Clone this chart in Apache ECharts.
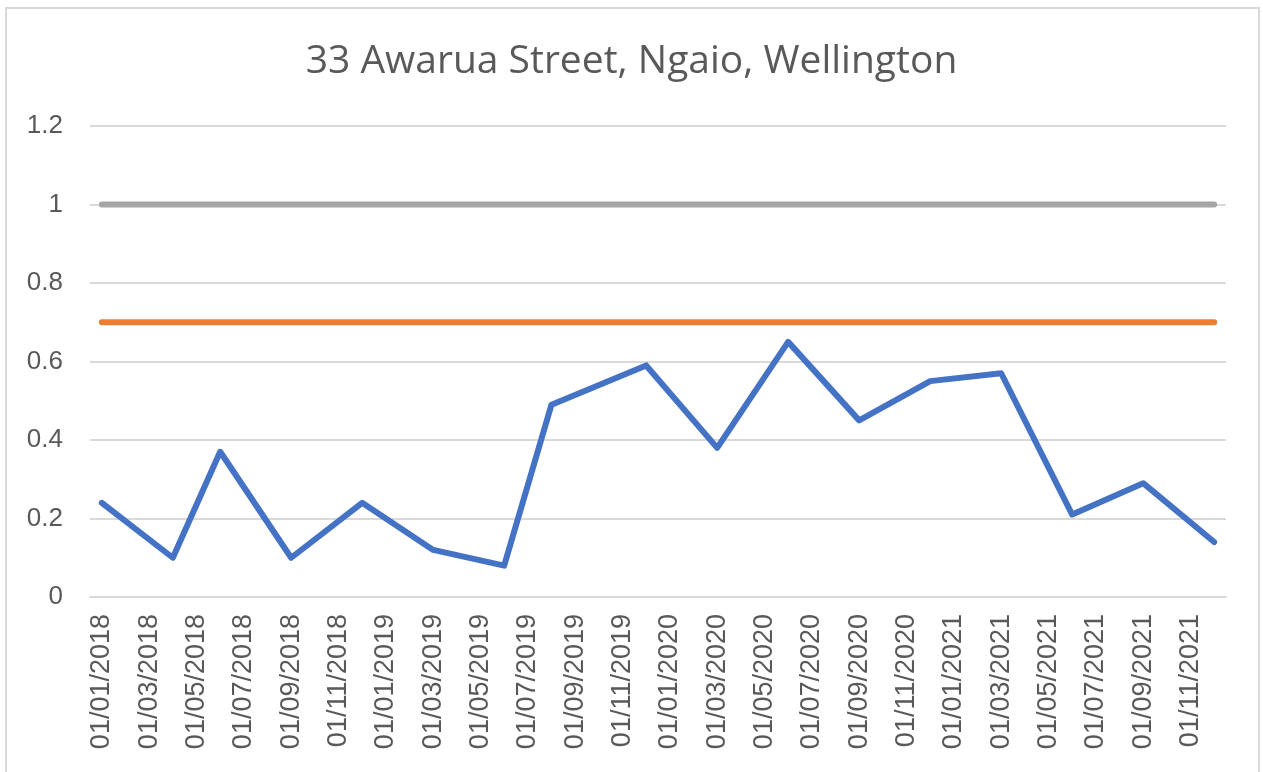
<!DOCTYPE html>
<html>
<head>
<meta charset="utf-8">
<title>33 Awarua Street, Ngaio, Wellington</title>
<script src="https://cdn.jsdelivr.net/npm/echarts@6/dist/echarts.min.js"></script>
<style>
  html, body { margin: 0; padding: 0; background: #fff; }
  #main { width: 1263px; height: 772px; }
</style>
</head>
<body>
<div id="main"></div>
<script>
// readings taken on the first of these months
var readingDates = [
  "01/01/2018", "01/04/2018", "01/06/2018", "01/09/2018", "01/12/2018",
  "01/03/2019", "01/06/2019", "01/08/2019", "01/12/2019",
  "01/03/2020", "01/06/2020", "01/09/2020", "01/12/2020",
  "01/03/2021", "01/06/2021", "01/09/2021", "01/12/2021"
];
var readings = [0.24, 0.10, 0.37, 0.10, 0.24, 0.12, 0.08, 0.49, 0.59, 0.38, 0.65, 0.45, 0.55, 0.57, 0.21, 0.29, 0.14];
var upperLevel = [1, 1, 1, 1, 1, 1, 1, 1, 1, 1, 1, 1, 1, 1, 1, 1, 1];
var targetLevel = [0.7, 0.7, 0.7, 0.7, 0.7, 0.7, 0.7, 0.7, 0.7, 0.7, 0.7, 0.7, 0.7, 0.7, 0.7, 0.7, 0.7];

// date axis: one slot per month, Jan 2018 - Dec 2021
var firstYear = 2018, lastYear = 2021;
var months = [];
for (var y = firstYear; y <= lastYear; y++) {
  for (var m = 1; m <= 12; m++) {
    months.push("01/" + (m < 10 ? "0" + m : m) + "/" + y);
  }
}

function pairs(vals) {
  return readingDates.map(function (d, i) { return [d, vals[i]]; });
}

var textColor = "#595959";
var gridColor = "#d9d9d9";

var myChart = echarts.init(document.getElementById("main"));
myChart.setOption({
  animation: false,
  title: {
    text: "33 Awarua Street, Ngaio, Wellington",
    left: "center",
    top: 37,
    textStyle: {
      fontFamily: "Open Sans",
      fontSize: 39,
      fontWeight: "normal",
      color: textColor
    }
  },
  graphic: [{
    type: "rect",
    shape: { x: 6, y: 8, width: 1253, height: 790 },
    style: { fill: "none", stroke: gridColor, lineWidth: 2 },
    silent: true
  }],
  grid: {
    left: 90,
    right: 37,
    top: 126,
    bottom: 175
  },
  xAxis: {
    type: "category",
    data: months,
    boundaryGap: true,
    axisLine: { lineStyle: { color: gridColor, width: 2 } },
    axisTick: { interval: 1, length: 9, lineStyle: { color: gridColor, width: 2 } },
    axisLabel: {
      interval: 1,
      rotate: 90,
      margin: 17,
      fontFamily: "Liberation Sans",
      fontSize: 27,
      color: textColor
    }
  },
  yAxis: {
    type: "value",
    min: 0,
    max: 1.2,
    interval: 0.2,
    axisLine: { show: false },
    axisTick: { show: false },
    axisLabel: {
      margin: 27,
      fontFamily: "Liberation Sans",
      fontSize: 26,
      color: textColor
    },
    splitLine: { lineStyle: { color: gridColor, width: 2 } }
  },
  series: [
    {
      name: "Reading",
      type: "line",
      data: pairs(readings),
      showSymbol: false,
      lineStyle: { color: "#4472c4", width: 6, cap: "round", join: "round" }
    },
    {
      name: "Target",
      type: "line",
      data: pairs(targetLevel),
      showSymbol: false,
      lineStyle: { color: "#ed7d31", width: 6, cap: "round" }
    },
    {
      name: "Upper",
      type: "line",
      data: pairs(upperLevel),
      showSymbol: false,
      lineStyle: { color: "#a5a5a5", width: 6, cap: "round" }
    }
  ]
});
</script>
</body>
</html>
